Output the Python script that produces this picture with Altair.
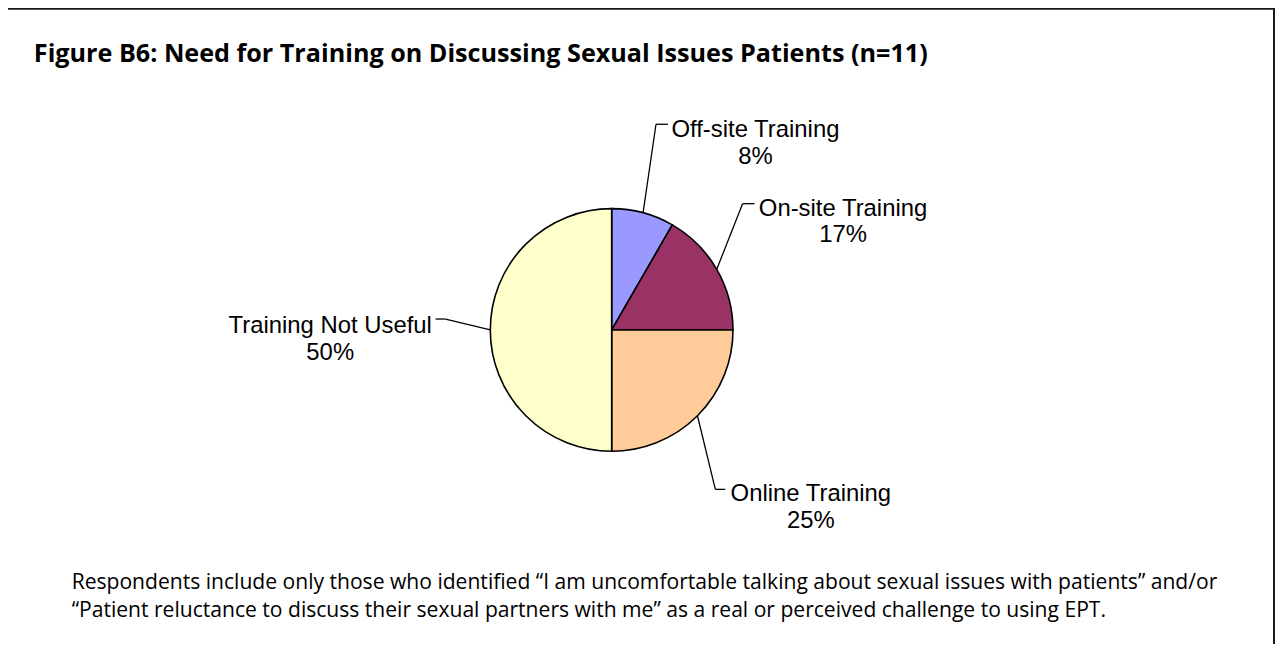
import altair as alt
import pandas as pd

# ---- data ----
categories = ["Off-site Training", "On-site Training", "Online Training", "Training Not Useful"]
counts = [1, 2, 3, 6]            # shares of 12 -> 8%, 17%, 25%, 50%
pct_labels = ["8%", "17%", "25%", "50%"]
colors = ["#9999FF", "#993366", "#FFCC99", "#FFFFCC"]

title_text = "Figure B6: Need for Training on Discussing Sexual Issues Patients (n=11)"
note_line1 = ("Respondents include only those who identified \u201cI am uncomfortable talking "
              "about sexual issues with patients\u201d and/or")
note_line2 = ("\u201cPatient reluctance to discuss their sexual partners with me\u201d as a real "
              "or perceived challenge to using EPT.")

# ---- layout (pixels, chart coordinates) ----
W, H = 1274, 636
CX, CY, R = 607, 322, 122
elbow_dx = [13, 26, 18, -45]
elbow_dy = [-89, -66, 74, -11]
tail_dx = [12, 12, 10, -10]
text_dx = [100, 101, 96, -116]
text_dy = [6, 5, 5, 7]

df = pd.DataFrame({
    "idx": list(range(len(categories))),
    "category": categories,
    "count": counts,
    "pct": pct_labels,
    "edx": elbow_dx,
    "edy": elbow_dy,
    "tdx": tail_dx,
    "ldx": text_dx,
    "ldy": text_dy,
})

color_scale = alt.Scale(domain=categories, range=colors)

pie = alt.Chart(df).mark_arc(
    outerRadius=R, stroke="black", strokeWidth=1.6
).encode(
    theta=alt.Theta("count:Q", stack=True),
    order=alt.Order("idx:Q"),
    color=alt.Color("category:N", scale=color_scale, legend=None),
    x=alt.value(CX),
    y=alt.value(CY),
)

geo = alt.Chart(df).transform_joinaggregate(
    total="sum(count)"
).transform_window(
    cum="sum(count)", sort=[alt.SortField("idx")]
).transform_calculate(
    mid="2*PI*(datum.cum - datum.count/2)/datum.total",
).transform_calculate(
    ex=f"{CX} + {R}*sin(datum.mid)",
    ey=f"{CY} - {R}*cos(datum.mid)",
).transform_calculate(
    bx="datum.ex + datum.edx",
    by="datum.ey + datum.edy",
).transform_calculate(
    tx="datum.bx + datum.tdx",
    lx="datum.bx + datum.ldx",
    ly="datum.by + datum.ldy",
    label="datum.category + '\\n' + datum.pct",
)

leader1 = geo.mark_rule(color="black", strokeWidth=1.3).encode(
    x=alt.X("ex:Q", scale=None, axis=None),
    y=alt.Y("ey:Q", scale=None, axis=None),
    x2="bx:Q",
    y2="by:Q",
)
leader2 = geo.mark_rule(color="black", strokeWidth=1.3).encode(
    x=alt.X("bx:Q", scale=None, axis=None),
    y=alt.Y("by:Q", scale=None, axis=None),
    x2="tx:Q",
    y2="by:Q",
)
labels = geo.mark_text(
    font="Liberation Sans", fontSize=24, lineHeight=27, align="center",
    baseline="middle", lineBreak="\n", color="black",
).encode(
    x=alt.X("lx:Q", scale=None, axis=None),
    y=alt.Y("ly:Q", scale=None, axis=None),
    text="label:N",
)

one = pd.DataFrame({"t": [title_text], "n1": [note_line1], "n2": [note_line2]})

border = alt.Chart(one).mark_rect(fill=None, stroke="#1a1a1a", strokeWidth=2).encode(
    x=alt.value(-1), x2=alt.value(W - 1), y=alt.value(-1), y2=alt.value(H + 40)
)

title = alt.Chart(one).mark_text(
    font="Open Sans", fontWeight="bold", fontSize=25.3, align="left", baseline="alphabetic",
    color="black",
).encode(x=alt.value(26), y=alt.value(53), text="t:N")

note1 = alt.Chart(one).mark_text(
    font="Open Sans", fontSize=21.2, align="left", baseline="alphabetic", color="black",
).encode(x=alt.value(64), y=alt.value(582), text="n1:N")

note2 = alt.Chart(one).mark_text(
    font="Open Sans", fontSize=21.2, align="left", baseline="alphabetic", color="black",
).encode(x=alt.value(64), y=alt.value(611), text="n2:N")

chart = alt.layer(
    border, pie, leader1, leader2, labels, title, note1, note2
).properties(
    width=W, height=H, autosize=alt.AutoSizeParams(type="none"), padding=0,
    background="white",
).configure_view(stroke=None)

chart.save("out.html", embed_options={"renderer": "svg", "actions": False})
